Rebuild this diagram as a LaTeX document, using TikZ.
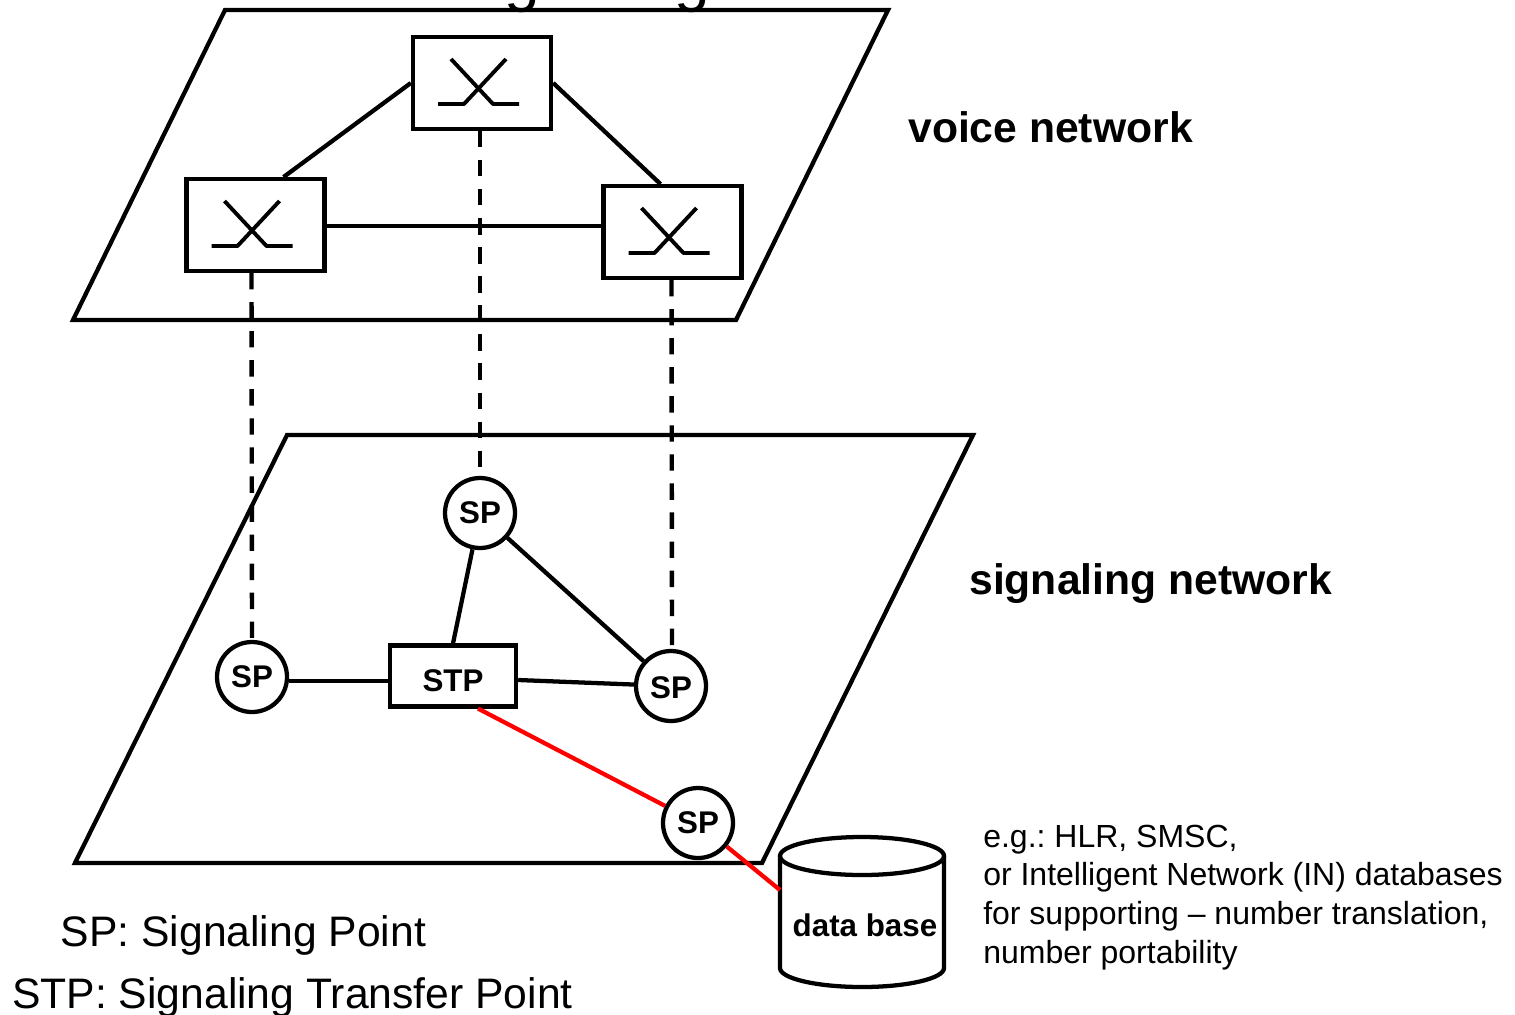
\documentclass[tikz,border=0pt]{standalone}
\usepackage{fontspec}
\setmainfont{Liberation Sans}
\newcommand{\fs}[1]{\fontsize{#1}{#1}\selectfont}
\tikzset{
  x=0.75pt,y=-0.75pt,
  plane/.style={line width=3.2pt,line join=miter},
  link/.style={line width=3.2pt},
  dlink/.style={line width=3.3pt,dash pattern=on 12.3pt off 9.5pt},
  rlink/.style={line width=3.2pt,draw=red},
  switchbox/.style={draw,line width=3.3pt,fill=white,minimum width=103.5pt,minimum height=68.6pt,inner sep=0pt,anchor=center},
  sp/.style={circle,draw,line width=3.2pt,fill=white,minimum size=52.5pt,inner sep=0pt,font=\fs{23.5}\bfseries},
  stp/.style={draw,line width=3.3pt,fill=white,minimum width=94.5pt,minimum height=45.5pt,inner sep=0pt,text height=25pt,text depth=2.2pt,font=\fs{23.5}\bfseries},
  netlabel/.style={anchor=base west,inner sep=0pt,font=\fs{32}\bfseries},
  keytext/.style={anchor=base west,inner sep=0pt,font=\fs{32}},
  small/.style={anchor=base west,inner sep=0pt,font=\fs{24}},
  pics/xsym/.style={code={
    \draw[line width=2.9pt,line cap=butt,line join=bevel] (-31,-24) -- (11,21) -- (37,21);
    \draw[line width=2.9pt,line cap=butt,line join=bevel] (24,-24) -- (-18,21) -- (-44,21);
  }}
}
\begin{document}
\frenchspacing
\begin{tikzpicture}
\useasboundingbox (0,0) rectangle (1515,1014);
\begin{scope}
\clip (0,0) rectangle (1515,1014);
\node[anchor=base west,inner sep=0pt,font=\fs{48}] (title) at (447,-1) {Signaling};
\end{scope}
% planes
\draw[plane] (225,10) -- (888,10) -- (736,320) -- (73,320) -- cycle;
\draw[plane] (287,435) -- (973,435) -- (762,863) -- (75,863) -- cycle;
% switches
\node[switchbox] (swT) at (482,83) {};
\node[switchbox] (swL) at (255.5,225) {};
\node[switchbox] (swR) at (672.5,232) {};
\pic at (swT.center) {xsym};
\pic at (swL.center) {xsym};
\pic at (swR.center) {xsym};
% signaling nodes
\node[sp] (spT) at (480,513) {SP};
\node[sp] (spL) at (252,677) {SP};
\node[sp,text height=18.2pt,text depth=0pt] (spR) at (671,686) {SP};
\node[sp] (spB) at (698,823) {SP};
\node[stp] (stp) at (453,676) {STP};
% database
\begin{scope}[line width=3.2pt]
\draw (862,856) ellipse[x radius=82,y radius=19];
\draw (780,856) -- (780,968) arc[x radius=82,y radius=19,start angle=180,end angle=0] -- (944,856);
\end{scope}
\node[inner sep=0pt,font=\fs{23.5}\bfseries] (db) at (865,925) {data base};
\coordinate (dbedge) at (780,890);
% connectors
\draw[link] (swT.west) -- ([shift={(28,0)}]swL.north);
\draw[link] (swT.east) -- ([shift={(-12,0)}]swR.north);
\draw[link] (swL.east |- 0,226) -- (swR.west |- 0,226);
\draw[dlink] ([shift={(-2,0)}]swT.south) -- ([shift={(0,-8)}]spT.north);
\draw[dlink] ([shift={(-4,0)}]swL.south) -- ([shift={(0,-2)}]spL.north);
\draw[dlink] ([shift={(-1,0)}]swR.south) -- ([shift={(1,-2)}]spR.north);
\draw[link] (spT) -- (stp.north);
\draw[link] (spT) -- (spR);
\draw[link] (spL.east |- 0,681) -- (stp.west |- 0,681);
\draw[link] ([shift={(0,4)}]stp.east) -- (spR);
\draw[rlink] ([shift={(25,0)}]stp.south) -- (spB);
\draw[rlink] (spB) -- (dbedge);
% labels
\node[netlabel] (lv) at (908,142) {voice network};
\node[netlabel] (ls) at (969,594) {signaling network};
\node[keytext] (k1) at (60.5,946) {SP: Signaling Point};
\node[keytext] (k2) at (12,1008) {STP: Signaling Transfer Point};
\node[small] (t1) at (983,847) {e.g.: HLR, SMSC,};
\node[small] (t2) at (983,885) {or Intelligent Network (IN) databases};
\node[small] (t3) at (983,924) {for supporting -- number translation,};
\node[small] (t4) at (983,963) {number portability};
\end{tikzpicture}
\end{document}
